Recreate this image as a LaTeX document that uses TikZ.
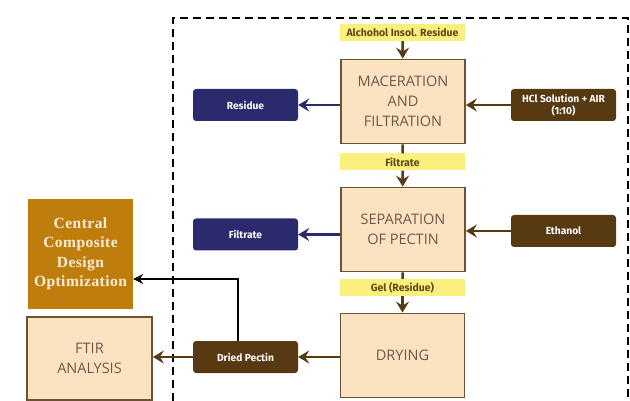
\documentclass[tikz,border=0pt]{standalone}
\usepackage{fontspec}
\setmainfont{Open Sans}
\newfontfamily\tagfont{Fira Sans}
\newfontfamily\ccdfont[LetterSpace=3]{Liberation Serif}
\usetikzlibrary{arrows.meta,calc}
\definecolor{pecpeach}{RGB}{251,227,193}
\definecolor{pecedge}{RGB}{110,82,52}
\definecolor{pecnavy}{RGB}{42,42,108}
\definecolor{pecbrown}{RGB}{88,58,18}
\definecolor{pecyellow}{RGB}{251,240,126}
\definecolor{pectag}{RGB}{94,74,18}
\definecolor{pecgold}{RGB}{191,125,12}
\definecolor{pecgray}{RGB}{107,90,72}

\begin{document}
\begin{tikzpicture}[x=1pt, y=-1pt, every node/.style={inner sep=1pt}]
  \tikzset{
    stage/.style={draw=pecedge, line width=1.8pt, fill=pecpeach, minimum width=124pt, minimum height=84pt,
      align=center, text=pecgray, font=\fontsize{14.5}{20}\selectfont},
    tag/.style={fill=pecyellow, minimum width=125pt, minimum height=17pt, text=pectag,
      font=\tagfont\fontsize{10.5}{12}\selectfont\bfseries},
    sidebox/.style={rounded corners=3pt, minimum width=105pt, minimum height=32pt, align=center,
      text=white, font=\tagfont\fontsize{10.2}{11.5}\selectfont\bfseries},
    outbox/.style={sidebox, fill=pecnavy},
    inbox/.style={sidebox, fill=pecbrown},
    flow/.style={-{Stealth[length=11pt,width=13pt,inset=4pt]}, line width=2.6pt, draw=pecbrown},
    outflow/.style={flow, draw=pecnavy}
  }
  \useasboundingbox (0,0) rectangle (630,401);

  % Dashed frame round the extraction steps
  \draw[line width=2.4pt, dash pattern=on 8pt off 5pt] (173,401) -- (173,18) -- (628,18) -- (628,401);

  % Extraction steps
  \node[tag] (air) at (402.5,32.5) {Alchohol Insol. Residue};
  \node[stage] (mac) at (403,101.5) {MACERATION\\AND\\FILTRATION};
  \node[outbox] (res) at (245.5,105) {Residue};
  \node[inbox] (hcl) at (563.5,105) {HCl Solution + AIR\\(1:10)};

  \node[tag] (filt) at (402.5,162) {Filtrate};
  \node[stage] (sep) at (403,229.5) {SEPARATION\\OF PECTIN};
  \node[outbox] (filtr) at (245.5,234.5) {Filtrate};
  \node[inbox] (eth) at (563.5,231) {Ethanol};

  \node[tag] (gel) at (402.5,287.5) {Gel (Residue)};
  \node[stage] (dry) at (402.5,355.5) {DRYING};
  \node[inbox] (dried) at (245.5,357) {Dried Pectin};

  % Outside the frame
  \node[stage, minimum width=125pt, minimum height=83pt] (ftir) at (89.5,358.5) {FTIR\\ANALYSIS};
  \node[fill=pecgold, minimum width=105pt, minimum height=110pt, align=center, text=pecpeach!60!white,
    font=\ccdfont\fontsize{15.5}{19.5}\selectfont\bfseries] (ccd) at (80.5,254) {Central\\Composite\\Design\\Optimization};

  % Connectors
  \draw[flow] (air) -- (mac);
  \draw[line width=2.6pt, draw=pecbrown] (mac) -- (filt);
  \draw[flow] (filt) -- (sep);
  \draw[line width=2.6pt, draw=pecbrown] (sep) -- (gel);
  \draw[flow] (gel) -- (dry);

  \draw[outflow] (mac.west |- res) -- (res);
  \draw[flow] (hcl) -- (mac.east |- hcl);
  \draw[outflow] (sep.west |- filtr) -- (filtr);
  \draw[flow] (eth) -- (sep.east |- eth);
  \draw[flow] (dry.west |- dried) -- (dried);
  \draw[flow] (dried) -- (ftir.east |- dried);

  \coordinate (bend) at (238,279);
  \draw[-{Stealth[length=10pt,width=10pt,inset=3.5pt]}, line width=2pt] (dried.north -| bend) -- (bend) -- (ccd.east |- bend);
\end{tikzpicture}
\end{document}
